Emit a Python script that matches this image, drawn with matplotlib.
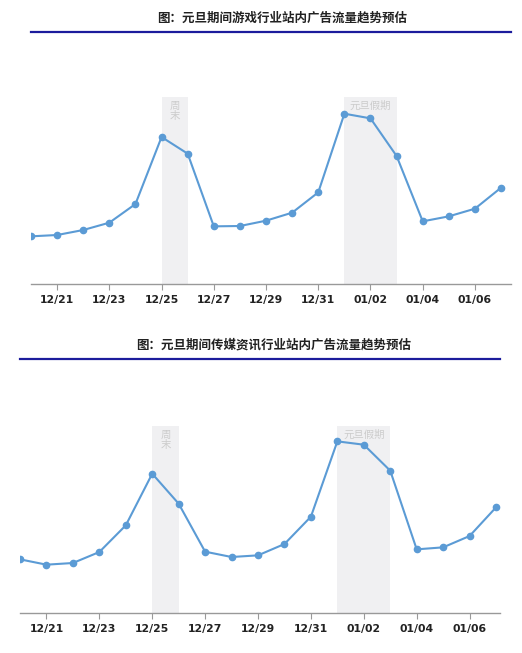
import matplotlib
matplotlib.use('Agg')
import matplotlib.pyplot as plt
import numpy as np

plt.rcParams['font.family'] = ['Noto Sans CJK SC', 'DejaVu Sans']

# data
dates = ['12/20', '12/21', '12/22', '12/23', '12/24', '12/25', '12/26', '12/27',
         '12/28', '12/29', '12/30', '12/31', '01/01', '01/02', '01/03', '01/04',
         '01/05', '01/06', '01/07']
game_values = [143, 147, 162, 184, 240, 441, 391, 173, 174, 190, 214, 275,
               511, 497, 384, 188, 203, 226, 289]
media_values = [161, 145, 150, 183, 263, 418, 328, 184, 168, 173, 207, 289,
                515, 505, 427, 191, 197, 231, 317]
game_title = '图：元旦期间游戏行业站内广告流量趋势预估'
media_title = '图：元旦期间传媒资讯行业站内广告流量趋势预估'
weekend_span = ('12/25', '12/26')
holiday_span = ('01/01', '01/03')
shade_top = 562

W, H = 522, 653
LINE_COLOR = '#5b9bd5'
SHADE_COLOR = '#f0f0f2'
RULE_COLOR = '#1c1c9c'


def px_box(left, top, right, bottom):
    # pixel box (from top-left) -> figure fraction rect
    return [left / W, 1 - bottom / H, (right - left) / W, (bottom - top) / H]


def draw_panel(fig, values, title, left, right, axis_y, title_y, rule_y, title_x, x_end_pad):
    x = np.arange(len(dates))
    scale = 187.3 / shade_top  # px per unit
    top_px = title_y + 40
    ax = fig.add_axes(px_box(left, top_px, right, axis_y))
    ax.set_xlim(0, len(dates) - 1 + x_end_pad)
    ax.set_ylim(0, (axis_y - top_px) / scale)

    for (a, b), label in [(weekend_span, '周\n末'), (holiday_span, '元旦假期')]:
        i0, i1 = dates.index(a), dates.index(b)
        ax.axvspan(i0, i1, ymin=0, ymax=shade_top / ax.get_ylim()[1],
                   color=SHADE_COLOR, lw=0, zorder=1)
        ax.text((i0 + i1) / 2, shade_top - 12, label, ha='center', va='top',
                fontsize=7.5, color='#cccccc', linespacing=1.1, zorder=2)

    ax.plot(x, values, color=LINE_COLOR, lw=1.5, marker='o', markersize=4.5,
            zorder=3)

    for s in ['top', 'right', 'left']:
        ax.spines[s].set_visible(False)
    ax.spines['bottom'].set_color('#999999')
    ax.spines['bottom'].set_linewidth(1)
    ax.set_yticks([])
    ax.set_xticks(x[1::2])
    ax.set_xticklabels(dates[1::2], fontsize=7.8, fontweight='bold',
                       color='#222222', family='DejaVu Sans')
    ax.tick_params(axis='x', length=4, color='#999999', pad=4)
    ax.set_facecolor('none')

    fig.text(title_x / W, 1 - title_y / H, title, ha='center', va='center',
             fontsize=9, fontweight='bold', color='#222222')
    fig.add_artist(plt.Line2D([left / W, (right) / W],
                              [1 - rule_y / H, 1 - rule_y / H],
                              color=RULE_COLOR, lw=1.6))


fig = plt.figure(figsize=(W / 100, H / 100), dpi=100)
draw_panel(fig, game_values, game_title, left=31, right=511, axis_y=284,
           title_y=18, rule_y=32, title_x=282, x_end_pad=0.38)
draw_panel(fig, media_values, media_title, left=20, right=500, axis_y=613,
           title_y=345, rule_y=359, title_x=274, x_end_pad=0.15)

fig.savefig('out.png', dpi=100)
